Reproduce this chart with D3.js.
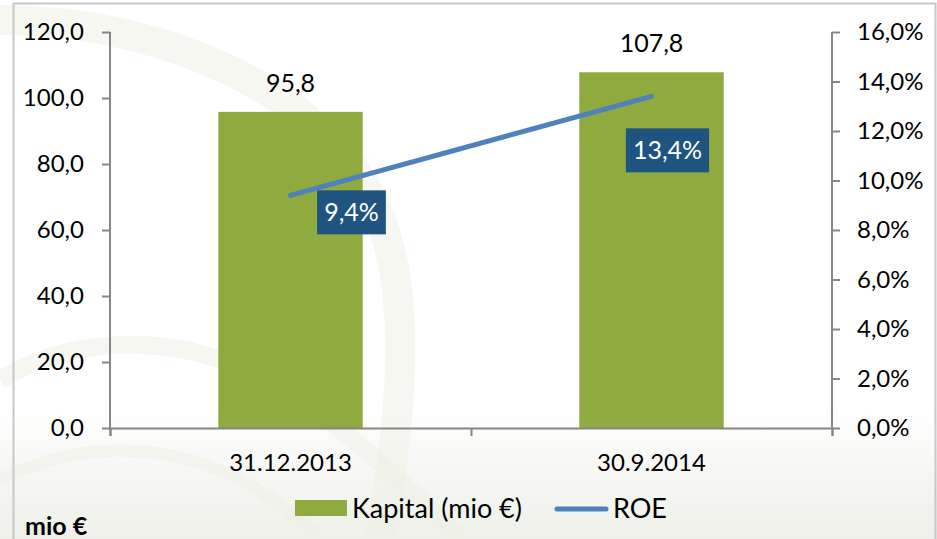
<!DOCTYPE html>
<html>
<head>
<meta charset="utf-8">
<script src="https://cdn.jsdelivr.net/npm/d3@7"></script>
<style>
  body { margin: 0; background: #fff; }
  svg { display: block; font-family: Lato, "Open Sans", sans-serif; }
</style>
</head>
<body>
<svg id="chart" width="937" height="539"></svg>
<script>
var categories = ["31.12.2013", "30.9.2014"];
var kapital = [95.8, 107.8];
var roe = [9.4, 13.4];
var leftTicks = [0, 20, 40, 60, 80, 100, 120];
var rightTicks = [0, 2, 4, 6, 8, 10, 12, 14, 16];
// offsets of the ROE data label boxes (dragged by hand in the original)
var roeLabelOffset = [[61, 17], [16, 54]];

var svg = d3.select("#chart"),
  margin = { top: 32, right: 105, bottom: 111, left: 110 },
  width = +svg.attr("width") - margin.left - margin.right,
  height = +svg.attr("height") - margin.top - margin.bottom;

var fmt = function(v, d) { return v.toFixed(d).replace(".", ","); };

// background
var defs = svg.append("defs");
var bg = defs.append("linearGradient").attr("id", "bg").attr("x1", 0).attr("y1", 0).attr("x2", 0).attr("y2", 1);
bg.append("stop").attr("offset", "0.75").attr("stop-color", "#ffffff");
bg.append("stop").attr("offset", "1").attr("stop-color", "#eef0e9");
svg.append("rect").attr("width", 937).attr("height", 539).attr("fill", "url(#bg)");

// faint swirl
var swirl = svg.append("g").attr("fill", "none").attr("stroke", "#eef0e4").attr("stroke-opacity", 0.5);
swirl.append("path").attr("d", "M0,20 C120,20 250,60 330,140 C400,210 420,320 380,539").attr("stroke-width", 30);
swirl.append("path").attr("d", "M0,380 C80,330 200,330 300,400 C360,440 420,500 460,539").attr("stroke-width", 18);
swirl.append("path").attr("d", "M0,480 C100,430 220,440 320,539").attr("stroke-width", 12);

// frame
svg.append("path").attr("d", "M13.5,539 V3.5 H935.5 V539").attr("fill", "none").attr("stroke", "#c8c8c8").attr("stroke-width", 2);

var g = svg.append("g").attr("transform", "translate(" + margin.left + "," + margin.top + ")");

var x = d3.scaleBand().domain(categories).range([0, width]).padding(0);
var y = d3.scaleLinear().domain([0, 120]).range([height, 0]);
var y2 = d3.scaleLinear().domain([0, 16]).range([height, 0]);
var barW = x.bandwidth() * 0.4;

// bars
g.selectAll(".bar")
  .data(kapital)
  .enter().append("rect")
  .attr("x", function(d, i) { return x(categories[i]) + x.bandwidth() / 2 - barW / 2; })
  .attr("y", function(d) { return y(d); })
  .attr("width", barW)
  .attr("height", function(d) { return height - y(d); })
  .attr("fill", "#8faa3f");

g.selectAll(".barlabel")
  .data(kapital)
  .enter().append("text")
  .attr("x", function(d, i) { return x(categories[i]) + x.bandwidth() / 2; })
  .attr("y", function(d) { return y(d) - 20; })
  .attr("text-anchor", "middle")
  .attr("font-size", 25)
  .attr("fill", "#000")
  .text(function(d) { return fmt(d, 1); });

// axes
var axisLeft = g.append("g").call(d3.axisLeft(y).tickValues(leftTicks).tickSize(8).tickPadding(18).tickFormat(function(d) { return fmt(d, 1); }));
var axisRight = g.append("g").attr("transform", "translate(" + width + ",0)")
  .call(d3.axisRight(y2).tickValues(rightTicks).tickSize(8).tickPadding(17).tickFormat(function(d) { return fmt(d, 1) + "%"; }));
var axisBottom = g.append("g").attr("transform", "translate(0," + height + ")")
  .call(d3.axisBottom(d3.scaleLinear().domain([0, 2]).range([0, width])).tickValues([0, 1, 2]).tickSize(8).tickFormat(""));
g.append("g").attr("transform", "translate(0," + height + ")")
  .call(d3.axisBottom(x).tickSize(0).tickPadding(26))
  .call(function(s) { s.select(".domain").remove(); });

g.selectAll(".domain").attr("stroke", "#868686").attr("stroke-width", 2);
g.selectAll(".tick line").attr("stroke", "#868686").attr("stroke-width", 2);
g.selectAll(".tick text").attr("font-size", 24).attr("fill", "#000").attr("font-family", "Lato, 'Open Sans', sans-serif");
axisLeft.select(".domain").attr("d", "M0,0V" + height);
axisRight.select(".domain").attr("d", "M0,0V" + height);

// ROE line
var cx = function(i) { return x(categories[i]) + x.bandwidth() / 2; };
var line = d3.line()
  .x(function(d, i) { return cx(i); })
  .y(function(d) { return y2(d); });
g.append("path")
  .datum(roe)
  .attr("d", line)
  .attr("fill", "none")
  .attr("stroke", "#4f81bd")
  .attr("stroke-width", 5)
  .attr("stroke-linecap", "round");

var roeLab = g.selectAll(".roelabel")
  .data(roe)
  .enter().append("g")
  .attr("transform", function(d, i) {
    return "translate(" + (cx(i) + roeLabelOffset[i][0]) + "," + (y2(d) + roeLabelOffset[i][1]) + ")";
  });
roeLab.append("text")
  .attr("text-anchor", "middle")
  .attr("dy", "0.35em")
  .attr("font-size", 25)
  .attr("fill", "#fff")
  .text(function(d) { return fmt(d, 1) + "%"; });
roeLab.insert("rect", "text")
  .each(function() {
    var bb = this.parentNode.querySelector("text").getBBox();
    d3.select(this).attr("x", bb.x - 7).attr("y", -22).attr("width", bb.width + 14).attr("height", 44);
  })
  .attr("fill", "#1f5380");

// legend
var leg = svg.append("g").attr("font-size", 27);
leg.append("rect").attr("x", 295).attr("y", 500).attr("width", 52).attr("height", 16).attr("fill", "#8faa3f");
leg.append("text").attr("x", 352).attr("y", 518).text("Kapital (mio €)");
leg.append("line").attr("x1", 557).attr("x2", 606).attr("y1", 509).attr("y2", 509)
  .attr("stroke", "#4f81bd").attr("stroke-width", 5).attr("stroke-linecap", "round");
leg.append("text").attr("x", 613).attr("y", 518).text("ROE");

svg.append("text").attr("x", 25).attr("y", 535).attr("font-size", 25).attr("font-weight", "bold").text("mio €");
</script>
</body>
</html>
